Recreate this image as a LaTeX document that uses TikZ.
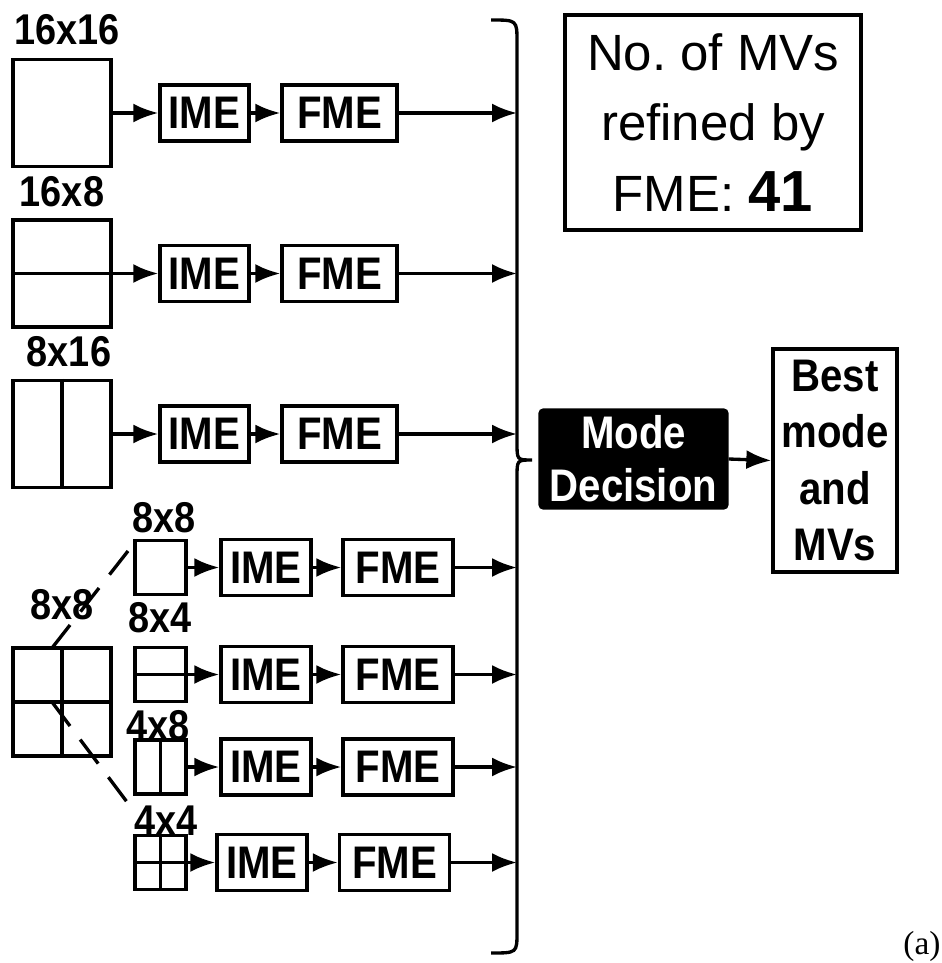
\documentclass[tikz,border=0pt]{standalone}
\usepackage{fontspec}
\setmainfont{Liberation Serif}
\setsansfont{Liberation Sans}
\newfontfamily\narrowsf[FakeStretch=0.88]{Liberation Sans}
\usepackage{tikz}
\usetikzlibrary{arrows.meta}
\frenchspacing

\begin{document}
\begin{tikzpicture}[x=0.02cm, y=-0.02cm,
		blk/.style={draw, line width=1.9pt, inner sep=0pt},
		part/.style={blk, minimum width=1.96cm, minimum height=2.14cm},
		sub/.style={blk, minimum width=1.02cm, minimum height=1.08cm},
		me/.style={blk, minimum height=1.12cm, font=\narrowsf\bfseries\fontsize{26}{30}\selectfont},
		lbl/.style={inner sep=0pt, font=\narrowsf\bfseries\fontsize{24.5}{28}\selectfont},
		arr/.style={-{Latex[length=0.5cm,width=0.38cm]}, line width=1.9pt},
		split/.style={line width=1.9pt, dash pattern=on 0.6cm off 0.34cm}]
		\useasboundingbox (0,0) rectangle (941,963);
		\node[part] (p1) at (62,113) {};
		\node[part] (p2) at (62,273.5) {};
		\node[part] (p3) at (62,434) {};
		\node[part, minimum height=2.16cm] (b) at (62,702) {};
		\draw[line width=1.9pt] (p3.north) -- (p3.south);
		\draw[line width=1.9pt] (b.north) -- (b.south);
		\draw[line width=1.9pt] (b.west) -- (b.east);
		\node[sub] (q1) at (160.5,567.5) {};
		\node[sub] (q2) at (160.5,674.5) {};
		\node[sub] (q3) at (160.5,767) {};
		\node[sub] (q4) at (160.5,862.5) {};
		\draw[line width=1.9pt] (q3.north) -- (q3.south);
		\draw[line width=1.9pt] (q4.north) -- (q4.south);
		\draw[line width=1.9pt] (q4.west) -- (q4.east);
		\node[lbl] (l1) at (67,30) {16x16};
		\node[lbl] (l2) at (62,192) {16x8};
		\node[lbl] (l3) at (69,352) {8x16};
		\node[lbl] (l4) at (62,605) {8x8};
		\node[lbl] (l5) at (164,518) {8x8};
		\node[lbl] (l6) at (160,618) {8x4};
		\node[lbl] (l7) at (158,726) {4x8};
		\node[lbl] (l8) at (166,821) {4x4};
		\node[me, minimum width=1.78cm] (i1) at (204.5,113) {IME};
		\node[me, minimum width=2.3cm] (f1) at (339.5,113) {FME};
		\node[me, minimum width=1.78cm] (i2) at (204.5,273.5) {IME};
		\node[me, minimum width=2.3cm] (f2) at (339.5,273.5) {FME};
		\node[me, minimum width=1.78cm] (i3) at (204.5,434) {IME};
		\node[me, minimum width=2.3cm] (f3) at (339.5,434) {FME};
		\node[me, minimum width=1.8cm] (i4) at (266,567.5) {IME};
		\node[me, minimum width=2.2cm] (f4) at (398,567.5) {FME};
		\node[me, minimum width=1.8cm] (i5) at (266,674.5) {IME};
		\node[me, minimum width=2.2cm] (f5) at (398,674.5) {FME};
		\node[me, minimum width=1.8cm] (i6) at (266,767) {IME};
		\node[me, minimum width=2.2cm] (f6) at (398,767) {FME};
		\node[me, minimum width=1.8cm] (i7) at (262,862.5) {IME};
		\node[me, minimum width=2.2cm] (f7) at (394.5,862.5) {FME};
		\coordinate (bx) at (517,460);
		\draw[line width=1.9pt] (491,20) .. controls (517,20) .. (517,42) -- (517,443)
			.. controls (517,460) .. (532,460) .. controls (517,460) .. (517,477)
			-- (517,932) .. controls (517,953) .. (491,953);
		\draw[arr] (p1.east) -- (i1.west);
		\draw[arr] (p2.west) -- (i2.west);
		\draw[arr] (p3.east) -- (i3.west);
		\draw[arr] (q1.east) -- (i4.west);
		\draw[arr] (q2.west) -- (i5.west);
		\draw[arr] (q3.east) -- (i6.west);
		\draw[arr] (q4.east) -- (i7.west);
		\foreach \k in {1,...,7}{
			\draw[arr] (i\k.east) -- (f\k.west);
			\draw[arr] (f\k.east) -- (f\k.east -| bx);
		}
		\coordinate (d0) at (128,551);
		\coordinate (d1) at (52,648);
		\coordinate (d2) at (52,702);
		\coordinate (d3) at (127,802);
		\draw[split] (d0) -- (d1);
		\draw[split] (d2) -- (d3);
		\node[blk, fill=black, rounded corners=2pt, minimum width=3.74cm, minimum height=1.96cm,
			text=white, align=center, font=\narrowsf\bfseries\fontsize{26}{30}\selectfont] (md) at (633.5,459) {Mode\\Decision};
		\node[blk, minimum width=2.48cm, minimum height=4.46cm, align=center,
			font=\narrowsf\bfseries\fontsize{26}{32}\selectfont] (best) at (835,460.5) {Best\\mode\\and\\MVs};
		\draw[arr] (md.east) -- (best.west);
		\node[blk, minimum width=5.92cm, minimum height=4.3cm, align=center,
			font=\sffamily\fontsize{29}{40}\selectfont] (nmv) at (713,122.5) {No. of MVs\\refined by\\FME: {\bfseries\fontsize{33}{40}\selectfont 41}};
		\node[font=\fontsize{19}{22}\selectfont, inner sep=0pt] (cap) at (922,946) {(a)};
	\end{tikzpicture}
\end{document}
